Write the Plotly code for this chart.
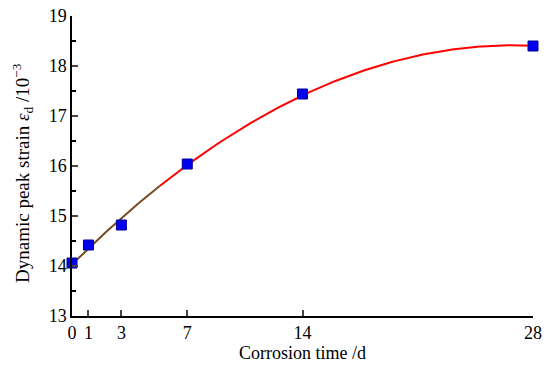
import numpy as np
import plotly.graph_objects as go

days = [0, 1, 3, 7, 14, 28]
strain = [14.06, 14.42, 14.82, 16.04, 17.44, 18.40]
x_ticks = [0, 1, 3, 7, 14, 28]
y_ticks = [13, 14, 15, 16, 17, 18, 19]

coef = np.polyfit(days, strain, 2)
xf = np.linspace(0, 28, 200)
yf = np.polyval(coef, xf)

fig = go.Figure()
n_brown = int((xf <= 5.4).sum())
fig.add_trace(go.Scatter(x=xf[n_brown - 1:], y=yf[n_brown - 1:],
                         mode="lines", line=dict(color="#ff0000", width=2), showlegend=False))
fig.add_trace(go.Scatter(x=xf[:n_brown], y=yf[:n_brown], mode="lines",
                         line=dict(color="#7a4a1c", width=2), showlegend=False))
fig.add_trace(go.Scatter(x=days, y=strain, mode="markers",
                         marker=dict(symbol="square", size=10, color="#0000ee",
                                     line=dict(color="#00009a", width=1)),
                         cliponaxis=False, showlegend=False))

font = "Liberation Serif, Times New Roman, serif"
fig.update_layout(
    width=542, height=360,
    margin=dict(l=64, r=17, t=8, b=52),
    plot_bgcolor="white", paper_bgcolor="white",
    font=dict(family=font, size=18, color="black"),
    xaxis=dict(range=[0, 28], tickvals=x_ticks, ticks="inside", ticklen=6,
               tickwidth=1.5, showline=True, linewidth=1.5, linecolor="black",
               mirror=False, showgrid=False, zeroline=False, automargin=False,
               ticklabeloverflow="allow",
               title=dict(text="Corrosion time /d", font=dict(size=18), standoff=4),
               tickfont=dict(size=18)),
    yaxis=dict(range=[13, 19], tickvals=y_ticks, ticks="inside", ticklen=6,
               tickwidth=1.5, showline=True, linewidth=1.5, linecolor="black",
               showgrid=False, zeroline=False, automargin=False,
               ticklabeloverflow="allow",
               minor=dict(tickvals=[13.5, 14.5, 15.5, 16.5, 17.5, 18.5], ticks="inside",
                          ticklen=4, tickwidth=1.5, tickcolor="black", showgrid=False),
               tickfont=dict(size=18)),
)
fig.add_annotation(
    text="Dynamic peak strain <i>ε</i><sub>d</sub> /10<sup>−3</sup>",
    textangle=-90, xref="paper", yref="paper",
    x=-50 / 461, xanchor="center", y=(316 - 173) / 300 , yanchor="middle",
    showarrow=False, font=dict(size=19, family=font, color="black"))
fig.write_html("out.html")
